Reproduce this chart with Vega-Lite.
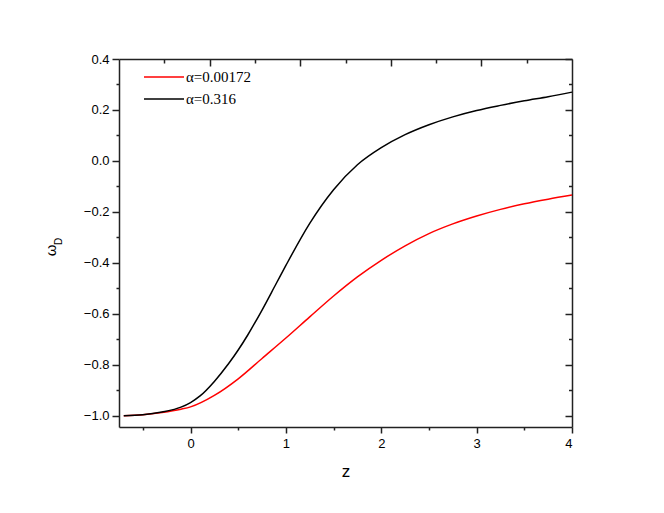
{
  "$schema": "https://vega.github.io/schema/vega-lite/v6.json",
  "width": 453,
  "height": 368,
  "autosize": {"type": "none"},
  "padding": {"left": 119, "top": 59, "right": 92, "bottom": 86},
  "background": "white",
  "config": {
    "view": {"stroke": null},
    "axis": {
      "grid": false,
      "domainColor": "#222222",
      "domainWidth": 1.5,
      "tickColor": "#222222",
      "tickWidth": 1.5,
      "labelFont": "Liberation Sans",
      "labelFontSize": 13,
      "labelColor": "#000000",
      "titleFont": "Liberation Sans",
      "titleFontWeight": "normal",
      "titleColor": "#000000"
    }
  },
  "resolve": {"axis": {"x": "independent", "y": "independent"}},
  "layer": [
    {
      "data": {"values": [
        {"z": -0.7, "w": -1.0, "series": "α=0.00172"},
        {"z": -0.5, "w": -0.996, "series": "α=0.00172"},
        {"z": -0.3, "w": -0.987, "series": "α=0.00172"},
        {"z": -0.1, "w": -0.974, "series": "α=0.00172"},
        {"z": 0.0, "w": -0.965, "series": "α=0.00172"},
        {"z": 0.25, "w": -0.92, "series": "α=0.00172"},
        {"z": 0.5, "w": -0.855, "series": "α=0.00172"},
        {"z": 0.75, "w": -0.775, "series": "α=0.00172"},
        {"z": 1.0, "w": -0.695, "series": "α=0.00172"},
        {"z": 1.25, "w": -0.612, "series": "α=0.00172"},
        {"z": 1.5, "w": -0.53, "series": "α=0.00172"},
        {"z": 1.75, "w": -0.455, "series": "α=0.00172"},
        {"z": 2.0, "w": -0.39, "series": "α=0.00172"},
        {"z": 2.25, "w": -0.333, "series": "α=0.00172"},
        {"z": 2.5, "w": -0.285, "series": "α=0.00172"},
        {"z": 2.75, "w": -0.247, "series": "α=0.00172"},
        {"z": 3.0, "w": -0.216, "series": "α=0.00172"},
        {"z": 3.25, "w": -0.19, "series": "α=0.00172"},
        {"z": 3.5, "w": -0.168, "series": "α=0.00172"},
        {"z": 3.75, "w": -0.15, "series": "α=0.00172"},
        {"z": 4.0, "w": -0.134, "series": "α=0.00172"}
      ]},
      "mark": {"type": "line", "strokeWidth": 1.5, "interpolate": "monotone"},
      "encoding": {
        "x": {
          "field": "z", "type": "quantitative",
          "scale": {"domain": [-0.75, 4], "nice": false, "zero": false},
          "axis": {
            "orient": "bottom",
            "values": [-0.5, 0, 0.5, 1, 1.5, 2, 2.5, 3, 3.5, 4],
            "tickSize": {"condition": {"test": "datum.value % 1 === 0", "value": 6}, "value": 3},
            "labelExpr": "datum.value % 1 === 0 ? '' + datum.value : ''",
            "labelPadding": 4,
            "title": "z",
            "titleFontSize": 17,
            "titleY": 49,
            "titleBaseline": "alphabetic"
          }
        },
        "y": {
          "field": "w", "type": "quantitative",
          "scale": {"domain": [-1.044, 0.4], "nice": false, "zero": false},
          "axis": {
            "orient": "left",
            "values": [-1.0, -0.9, -0.8, -0.7, -0.6, -0.5, -0.4, -0.3, -0.2, -0.1, 0.0, 0.1, 0.2, 0.3, 0.4],
            "format": ".1f",
            "tickSize": {"condition": {"test": "abs(round(datum.value*10)) % 2 === 0", "value": 7}, "value": 3},
            "labelExpr": "abs(round(datum.value*10)) % 2 === 0 ? datum.label : ''",
            "labelPadding": 3,
            "title": "ω",
            "titleFontSize": 15,
            "titleX": -69,
            "titleY": 191,
            "titleAngle": 270,
            "titleAlign": "center",
            "titleBaseline": "middle"
          }
        },
        "color": {
          "field": "series", "type": "nominal",
          "scale": {"domain": ["α=0.00172", "α=0.316"], "range": ["#ff0000", "#000000"]},
          "legend": {
            "orient": "none",
            "legendX": 24,
            "legendY": 9,
            "title": null,
            "padding": 0,
            "symbolType": "stroke",
            "symbolSize": 1600,
            "symbolStrokeWidth": 1.5,
            "labelFont": "Liberation Serif",
            "labelFontSize": 15,
            "labelColor": "#000000",
            "labelOffset": 1,
            "clipHeight": 18,
            "rowPadding": 4
          }
        }
      }
    },
    {
      "data": {"values": [
        {"z": -0.7, "w": -1.0, "series": "α=0.316"},
        {"z": -0.5, "w": -0.996, "series": "α=0.316"},
        {"z": -0.3, "w": -0.985, "series": "α=0.316"},
        {"z": -0.1, "w": -0.966, "series": "α=0.316"},
        {"z": 0.0, "w": -0.948, "series": "α=0.316"},
        {"z": 0.1, "w": -0.922, "series": "α=0.316"},
        {"z": 0.25, "w": -0.865, "series": "α=0.316"},
        {"z": 0.4, "w": -0.795, "series": "α=0.316"},
        {"z": 0.5, "w": -0.742, "series": "α=0.316"},
        {"z": 0.6, "w": -0.683, "series": "α=0.316"},
        {"z": 0.75, "w": -0.585, "series": "α=0.316"},
        {"z": 0.9, "w": -0.48, "series": "α=0.316"},
        {"z": 1.0, "w": -0.41, "series": "α=0.316"},
        {"z": 1.25, "w": -0.245, "series": "α=0.316"},
        {"z": 1.5, "w": -0.113, "series": "α=0.316"},
        {"z": 1.75, "w": -0.015, "series": "α=0.316"},
        {"z": 2.0, "w": 0.052, "series": "α=0.316"},
        {"z": 2.25, "w": 0.103, "series": "α=0.316"},
        {"z": 2.5, "w": 0.142, "series": "α=0.316"},
        {"z": 2.75, "w": 0.173, "series": "α=0.316"},
        {"z": 3.0, "w": 0.198, "series": "α=0.316"},
        {"z": 3.25, "w": 0.218, "series": "α=0.316"},
        {"z": 3.5, "w": 0.236, "series": "α=0.316"},
        {"z": 3.75, "w": 0.252, "series": "α=0.316"},
        {"z": 4.0, "w": 0.27, "series": "α=0.316"}
      ]},
      "mark": {"type": "line", "strokeWidth": 1.5, "interpolate": "monotone"},
      "encoding": {
        "x": {
          "field": "z", "type": "quantitative",
          "scale": {"domain": [-0.75, 4], "nice": false, "zero": false},
          "axis": {
            "orient": "top",
            "values": [-0.275, 0.2, 0.675, 1.15, 1.625, 2.1, 2.575, 3.05, 3.525],
            "labels": false,
            "tickSize": {"condition": {"test": "indexof([0.2, 1.15, 2.1, 3.05], datum.value) >= 0", "value": -7}, "value": -4},
            "title": null
          }
        },
        "y": {
          "field": "w", "type": "quantitative",
          "scale": {"domain": [-1.044, 0.4], "nice": false, "zero": false},
          "axis": {
            "orient": "right",
            "values": [-1.0, -0.9, -0.8, -0.7, -0.6, -0.5, -0.4, -0.3, -0.2, -0.1, 0.0, 0.1, 0.2, 0.3, 0.4],
            "labels": false,
            "tickSize": {"condition": {"test": "abs(round(datum.value*10)) % 2 === 0", "value": -7}, "value": -3.5},
            "title": "D",
            "titleFontSize": 10,
            "titleX": -514,
            "titleY": 182,
            "titleAngle": 270,
            "titleAlign": "center",
            "titleBaseline": "middle"
          }
        },
        "color": {
          "field": "series", "type": "nominal",
          "scale": {"domain": ["α=0.00172", "α=0.316"], "range": ["#ff0000", "#000000"]}
        }
      }
    }
  ]
}
